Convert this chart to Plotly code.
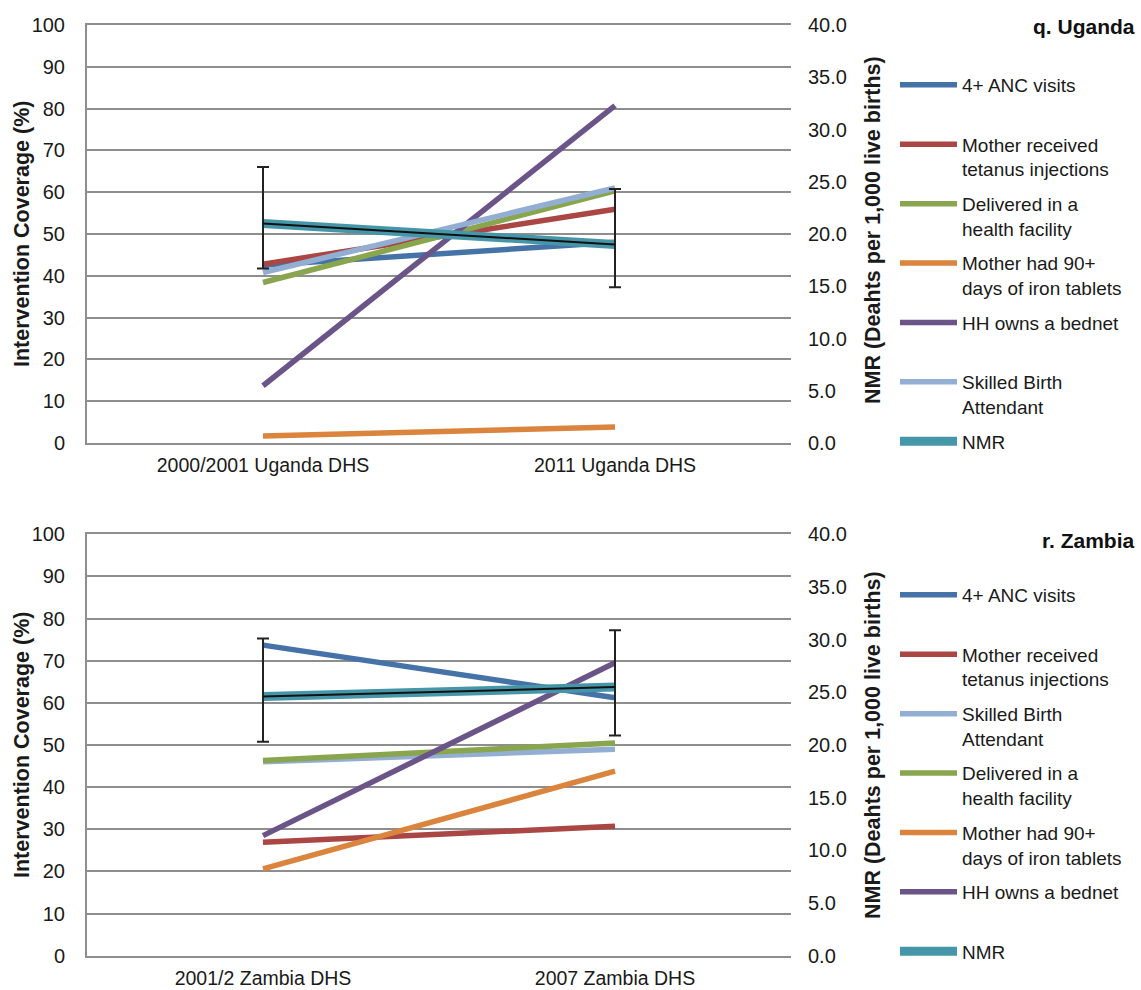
import plotly.graph_objects as go

W, H = 1141, 990

# ---------------- data ----------------
ug_categories = ["2000/2001 Uganda DHS", "2011 Uganda DHS"]
ug_anc = [42.5, 48.0]
ug_tetanus = [42.8, 55.9]
ug_facility = [38.4, 60.3]
ug_iron = [1.7, 3.8]
ug_bednet = [13.7, 80.7]
ug_sba = [40.8, 61.0]
ug_nmr = [21.0, 19.0]
ug_nmr_err_plus = [5.4, 5.3]
ug_nmr_err_minus = [4.3, 4.1]

zm_categories = ["2001/2 Zambia DHS", "2007 Zambia DHS"]
zm_anc = [73.7, 61.2]
zm_tetanus = [26.9, 30.7]
zm_sba = [46.0, 49.0]
zm_facility = [46.3, 50.5]
zm_iron = [20.6, 43.8]
zm_bednet = [28.5, 69.5]
zm_nmr = [24.6, 25.5]
zm_nmr_err_plus = [5.5, 5.4]
zm_nmr_err_minus = [4.3, 4.6]

left_ticks = [0, 10, 20, 30, 40, 50, 60, 70, 80, 90, 100]
right_ticks = [0, 5, 10, 15, 20, 25, 30, 35, 40]

# ---------------- styles ----------------
C_BLUE = "#4572A7"
C_RED = "#AA4643"
C_GREEN = "#89A54E"
C_ORANGE = "#DB843D"
C_PURPLE = "#6B5488"
C_LBLUE = "#93AED3"
C_TEAL = "#4696AA"
GRID = "#8E8E8E"
FONT = "Liberation Sans, Arial, sans-serif"
LW = 5.5

fig = go.Figure()

def add_series(x, y, name, color, yaxis, xaxis, legend, group):
    fig.add_trace(go.Scatter(
        x=x, y=y, name=name, mode="lines",
        line=dict(color=color, width=LW),
        xaxis=xaxis, yaxis=yaxis, legend=legend, legendgroup=group,
        hoverinfo="skip"))

def add_nmr(x, y, ep, em, yaxis, xaxis, legend, group):
    fig.add_trace(go.Scatter(
        x=x, y=y, name="NMR", mode="lines",
        line=dict(color=C_TEAL, width=9),
        xaxis=xaxis, yaxis=yaxis, legend=legend, legendgroup=group,
        hoverinfo="skip"))
    fig.add_trace(go.Scatter(
        x=x, y=y, mode="lines", showlegend=False,
        line=dict(color="#111111", width=2),
        error_y=dict(type="data", symmetric=False, array=ep, arrayminus=em,
                     color="#222222", thickness=2, width=6),
        xaxis=xaxis, yaxis=yaxis, hoverinfo="skip"))

NB = "<br>\u00a0"

# Uganda (top)
add_series(ug_categories, ug_anc, "4+ ANC visits" + NB, C_BLUE, "y", "x", "legend", "u1")
add_series(ug_categories, ug_tetanus, "Mother received<br>tetanus injections", C_RED, "y", "x", "legend", "u2")
add_series(ug_categories, ug_facility, "Delivered in a<br>health facility", C_GREEN, "y", "x", "legend", "u3")
add_series(ug_categories, ug_iron, "Mother had 90+<br>days of iron tablets", C_ORANGE, "y", "x", "legend", "u4")
add_series(ug_categories, ug_bednet, "HH owns a bednet" + NB, C_PURPLE, "y", "x", "legend", "u5")
add_series(ug_categories, ug_sba, "Skilled Birth<br>Attendant", C_LBLUE, "y", "x", "legend", "u6")
add_nmr(ug_categories, ug_nmr, ug_nmr_err_plus, ug_nmr_err_minus, "y2", "x", "legend", "u7")

# Zambia (bottom)
add_series(zm_categories, zm_anc, "4+ ANC visits" + NB, C_BLUE, "y3", "x2", "legend2", "z1")
add_series(zm_categories, zm_tetanus, "Mother received<br>tetanus injections", C_RED, "y3", "x2", "legend2", "z2")
add_series(zm_categories, zm_sba, "Skilled Birth<br>Attendant", C_LBLUE, "y3", "x2", "legend2", "z3")
add_series(zm_categories, zm_facility, "Delivered in a<br>health facility", C_GREEN, "y3", "x2", "legend2", "z4")
add_series(zm_categories, zm_iron, "Mother had 90+<br>days of iron tablets", C_ORANGE, "y3", "x2", "legend2", "z5")
add_series(zm_categories, zm_bednet, "HH owns a bednet" + NB, C_PURPLE, "y3", "x2", "legend2", "z6")
add_nmr(zm_categories, zm_nmr, zm_nmr_err_plus, zm_nmr_err_minus, "y4", "x2", "legend2", "z7")

# ---------------- layout ----------------
xdom = [87 / W, 791 / W]
top_dom = [1 - 443 / H, 1 - 25 / H]
bot_dom = [1 - 955.7 / H, 1 - 534.3 / H]

tickfont = dict(family=FONT, size=20, color="#1a1a1a")

def xax(domain_anchor):
    return dict(domain=xdom, anchor=domain_anchor, type="category", range=[-0.5, 1.5],
                showgrid=False, showline=True, linecolor=GRID, linewidth=2,
                mirror=True, ticks="", tickfont=dict(family=FONT, size=19.5, color="#1a1a1a"),
                ticklabelstandoff=4, automargin=False, fixedrange=True)

def yleft(domain, anchor):
    return dict(domain=domain, anchor=anchor, range=[0, 100], tickvals=left_ticks,
                showgrid=True, gridcolor=GRID, gridwidth=2, zeroline=False,
                showline=True, linecolor=GRID, linewidth=2, ticks="",
                tickfont=tickfont, ticklabelstandoff=16, automargin=False)

def yright(overlay, anchor):
    return dict(overlaying=overlay, anchor=anchor, side="right", range=[0, 40],
                tickvals=right_ticks, tickformat=".1f", showgrid=False, zeroline=False,
                showline=False, ticks="", tickfont=tickfont, ticklabelstandoff=16,
                automargin=False)

legend_common = dict(
    font=dict(family=FONT, size=19, color="#1a1a1a"),
    bgcolor="rgba(0,0,0,0)", borderwidth=0, valign="top",
    tracegroupgap=7, xanchor="left", yanchor="top", itemclick=False,
    itemwidth=57,
)

title_font = dict(family=FONT, size=21.5, color="#1a1a1a")

fig.update_layout(
    width=W, height=H,
    margin=dict(l=0, r=0, t=0, b=0),
    paper_bgcolor="white", plot_bgcolor="white",
    font=dict(family=FONT),
    xaxis=xax("y"),
    yaxis=yleft(top_dom, "x"),
    yaxis2=yright("y", "x"),
    xaxis2=xax("y3"),
    yaxis3=yleft(bot_dom, "x2"),
    yaxis4=yright("y3", "x2"),
    legend=dict(x=895 / W, y=1 - 66 / H, **legend_common),
    legend2=dict(x=895 / W, y=1 - 576 / H, **legend_common),
    annotations=[
        dict(text="<b>Intervention Coverage (%)</b>", x=22 / W, y=1 - 234 / H,
             xref="paper", yref="paper", textangle=-90, showarrow=False,
             font=title_font, xanchor="center", yanchor="middle"),
        dict(text="<b>NMR (Deahts per 1,000 live births)</b>", x=873 / W, y=1 - 230 / H,
             xref="paper", yref="paper", textangle=-90, showarrow=False,
             font=title_font, xanchor="center", yanchor="middle"),
        dict(text="<b>Intervention Coverage (%)</b>", x=22 / W, y=1 - 745 / H,
             xref="paper", yref="paper", textangle=-90, showarrow=False,
             font=title_font, xanchor="center", yanchor="middle"),
        dict(text="<b>NMR (Deahts per 1,000 live births)</b>", x=873 / W, y=1 - 745 / H,
             xref="paper", yref="paper", textangle=-90, showarrow=False,
             font=title_font, xanchor="center", yanchor="middle"),
        dict(text="<b>q. Uganda</b>", x=1137 / W, y=1 - 27 / H,
             xref="paper", yref="paper", showarrow=False,
             font=dict(family=FONT, size=21, color="#111111"),
             xanchor="right", yanchor="middle"),
        dict(text="<b>r. Zambia</b>", x=1137 / W, y=1 - 540 / H,
             xref="paper", yref="paper", showarrow=False,
             font=dict(family=FONT, size=21, color="#111111"),
             xanchor="right", yanchor="middle"),
    ],
    showlegend=True,
)

fig.write_html(
    "out.html",
    config=dict(displayModeBar=False),
    post_script="document.body.style.margin='0';document.body.style.overflow='hidden';",
)
